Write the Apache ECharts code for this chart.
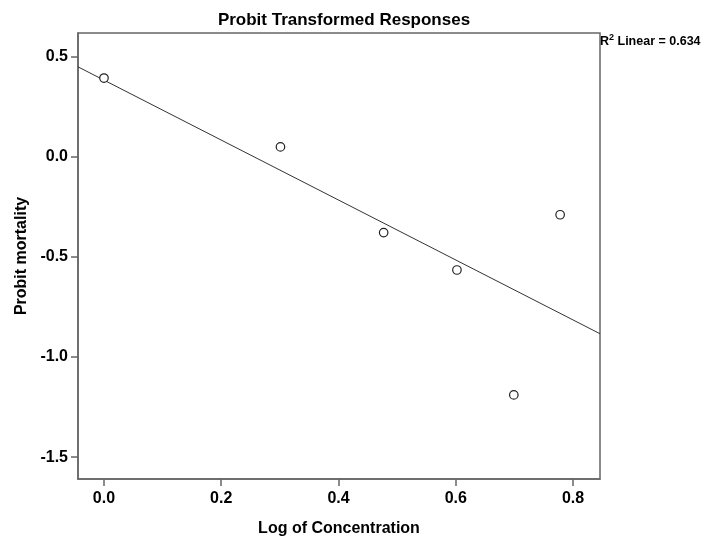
<!DOCTYPE html>
<html><head><meta charset="utf-8">
<script src="https://cdn.jsdelivr.net/npm/echarts@6/dist/echarts.min.js"></script>
<style>html,body{margin:0;padding:0;background:#fff}#c{width:718px;height:542px}</style>
</head><body><div id="c"></div>
<script>
var logConc = [0, 0.301, 0.477, 0.602, 0.699, 0.778];
var probit = [0.394, 0.050, -0.378, -0.565, -1.189, -0.289];
var xTicks = [0, 0.2, 0.4, 0.6, 0.8];
var yTicks = [-1.5, -1.0, -0.5, 0, 0.5];
var rSquaredLabel = '0.634';

var xMin = -0.0443, xMax = 0.846, yMin = -1.609, yMax = 0.619;

// least squares fit from the data
var n = logConc.length, mx = 0, my = 0;
for (var i = 0; i < n; i++) { mx += logConc[i]; my += probit[i]; }
mx /= n; my /= n;
var sxy = 0, sxx = 0;
for (var i = 0; i < n; i++) { sxy += (logConc[i]-mx)*(probit[i]-my); sxx += (logConc[i]-mx)*(logConc[i]-mx); }
var slope = sxy / sxx, icpt = my - slope * mx;
var fitLine = [[xMin, icpt + slope*xMin], [xMax, icpt + slope*xMax]];

var font = '"Liberation Sans", Arial, sans-serif';
var chart = echarts.init(document.getElementById('c'), null, {renderer: 'canvas'});
chart.setOption({
  animation: false,
  backgroundColor: '#fff',
  title: {
    text: 'Probit Transformed Responses', left: 339, top: 7, textAlign: 'center',
    textStyle: {fontFamily: font, fontWeight: 'bold', fontSize: 17, color: '#000'}
  },
  grid: {left: 78, top: 33, right: 118, bottom: 60, show: true, borderColor: '#666', borderWidth: 1.5, backgroundColor: '#fff'},
  xAxis: {
    type: 'value', min: xMin, max: xMax,
    name: 'Log of Concentration', nameLocation: 'middle', nameGap: 42,
    nameTextStyle: {fontFamily: font, fontWeight: 'bold', fontSize: 16, color: '#000'},
    axisLine: {show: true, onZero: false, lineStyle: {color: '#666', width: 1.5}},
    axisTick: {show: true, inside: false, length: 7, customValues: xTicks, lineStyle: {color: '#666', width: 1.5}},
    axisLabel: {customValues: xTicks, margin: 12, fontFamily: font, fontWeight: 'bold', fontSize: 16, color: '#000',
      formatter: function(v){ return v.toFixed(1); }},
    splitLine: {show: false}
  },
  yAxis: {
    type: 'value', min: yMin, max: yMax,
    name: 'Probit mortality', nameLocation: 'middle', nameGap: 45,
    nameTextStyle: {fontFamily: font, fontWeight: 'bold', fontSize: 16, color: '#000'},
    axisLine: {show: true, onZero: false, lineStyle: {color: '#666', width: 1.5}},
    axisTick: {show: true, inside: false, length: 7, customValues: yTicks, lineStyle: {color: '#666', width: 1.5}},
    axisLabel: {customValues: yTicks, margin: 10, fontFamily: font, fontWeight: 'bold', fontSize: 16, color: '#000',
      formatter: function(v){ return v.toFixed(1); }},
    splitLine: {show: false}
  },
  graphic: [{
    type: 'text', left: 600, top: 33,
    style: {
      text: '{a|R}{s|2}{a| Linear = ' + rSquaredLabel + '}',
      rich: {
        a: {fontFamily: font, fontWeight: 'bold', fontSize: 12.5, fill: '#000', verticalAlign: 'bottom', lineHeight: 15},
        s: {fontFamily: font, fontWeight: 'bold', fontSize: 9, fill: '#000', verticalAlign: 'top', lineHeight: 15, padding: [0,0,6,0]}
      }
    }
  }],
  series: [{
    type: 'line', data: fitLine, showSymbol: false, symbol: 'none',
    lineStyle: {color: '#333', width: 1}, silent: true, z: 2
  }, {
    type: 'scatter', data: logConc.map(function(x, i){ return [x, probit[i]]; }),
    symbol: 'circle', symbolSize: 8.5,
    itemStyle: {color: '#fff', borderColor: '#222', borderWidth: 1.2, opacity: 1}, z: 3
  }]
});
</script></body></html>
